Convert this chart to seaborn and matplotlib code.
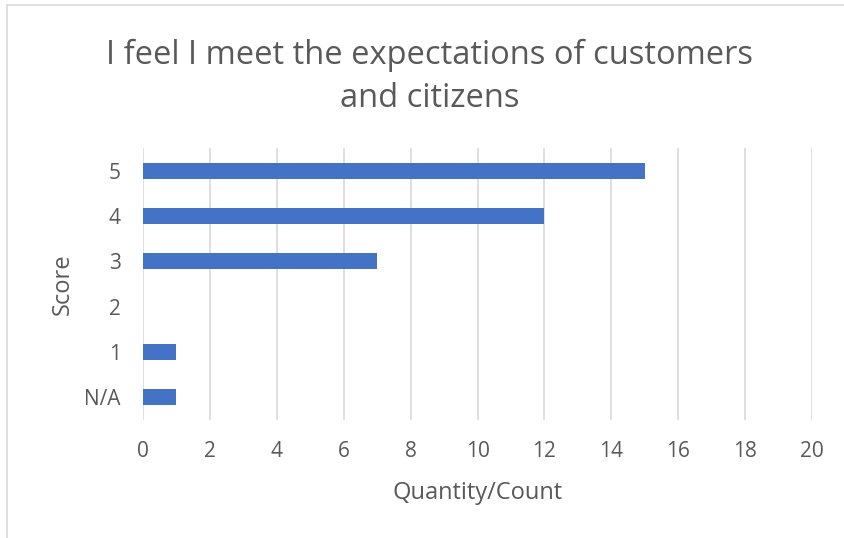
import matplotlib
matplotlib.use("Agg")
import matplotlib.pyplot as plt
import seaborn as sns
import pandas as pd
from matplotlib.patches import Rectangle

# data
scores = ["5", "4", "3", "2", "1", "N/A"]
counts = [15, 12, 7, 0, 1, 1]
x_ticks = [0, 2, 4, 6, 8, 10, 12, 14, 16, 18, 20]

df = pd.DataFrame({"Score": scores, "Count": counts})

sns.set_style("white")
plt.rcParams["font.family"] = ["Open Sans", "DejaVu Sans"]
text_col = "#595959"

fig = plt.figure(figsize=(8.44, 5.38), dpi=100)
ax = fig.add_axes([143 / 844, 1 - 420 / 538, (812 - 143) / 844, (420 - 148) / 538])

sns.barplot(data=df, x="Count", y="Score", order=scores, color="#4472C4",
            width=0.35, saturation=1, linewidth=0, ax=ax, zorder=3)

ax.set_xlim(0, 20)
ax.set_ylim(5.5, -0.5)
ax.set_xticks(x_ticks)
ax.set_xticklabels([str(t) for t in x_ticks])
ax.grid(axis="x", color="#d9d9d9", linewidth=1.2, zorder=0)
ax.grid(axis="y", visible=False)
for s in ax.spines.values():
    s.set_visible(False)
ax.tick_params(axis="both", length=0, labelsize=15, colors=text_col)
ax.tick_params(axis="x", pad=15)
ax.tick_params(axis="y", pad=16)
ax.set_xlabel("Quantity/Count", fontsize=17, color=text_col, labelpad=14)
ax.set_ylabel("Score", fontsize=17, color=text_col, labelpad=7)

fig.text(430 / 844, 1 - 77 / 538, "I feel I meet the expectations of customers\nand citizens",
         ha="center", va="center", fontsize=23.5, color=text_col, linespacing=1.38)

# chart border (clipped at right and bottom like the original)
fig.patches.append(Rectangle((7 / 844, -0.1), 1.2, 1 - 5.5 / 538 + 0.1,
                             transform=fig.transFigure, fill=False,
                             edgecolor="#d9d9d9", linewidth=1.2))

fig.savefig("out.png", dpi=100)
